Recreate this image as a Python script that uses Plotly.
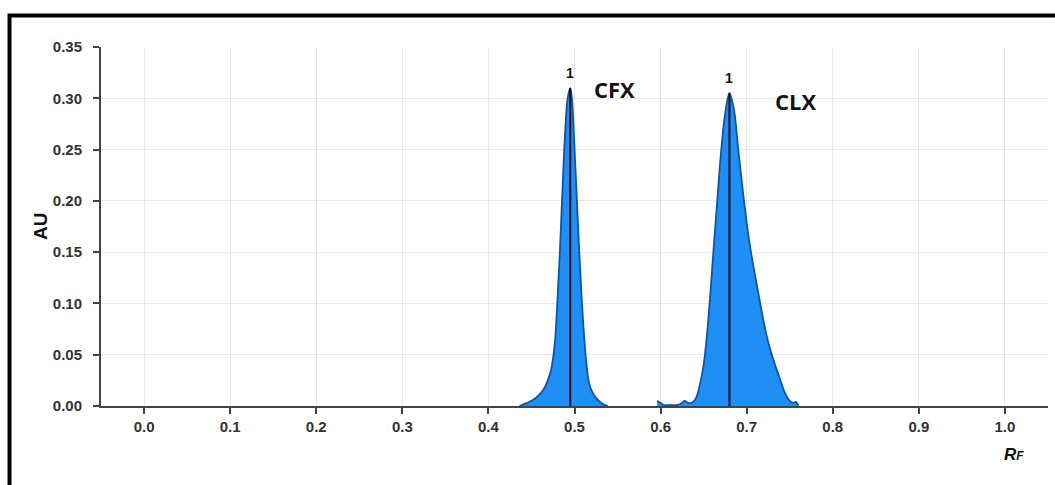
import plotly.graph_objects as go

# ---- data ----
cfx_rf = [0.436, 0.445, 0.452, 0.458, 0.464, 0.469, 0.473, 0.477, 0.480, 0.483, 0.486,
          0.489, 0.492, 0.495, 0.497, 0.499, 0.502, 0.505, 0.508, 0.511, 0.514, 0.517,
          0.521, 0.527, 0.533, 0.539]
cfx_au = [0.000, 0.003, 0.006, 0.010, 0.016, 0.025, 0.036, 0.060, 0.100, 0.150, 0.210,
          0.265, 0.300, 0.310, 0.300, 0.270, 0.215, 0.160, 0.110, 0.070, 0.040, 0.022,
          0.013, 0.006, 0.002, 0.000]

clx_rf = [0.596, 0.600, 0.604, 0.612, 0.620, 0.625, 0.628, 0.632, 0.636, 0.640, 0.643,
          0.646, 0.650, 0.654, 0.658, 0.662, 0.666, 0.670, 0.675, 0.680, 0.685, 0.690,
          0.696, 0.702, 0.707, 0.712, 0.717, 0.722, 0.727, 0.733, 0.738, 0.742, 0.746,
          0.750, 0.754, 0.757, 0.760]
clx_au = [0.005, 0.003, 0.001, 0.001, 0.001, 0.003, 0.005, 0.003, 0.003, 0.006, 0.012,
          0.022, 0.040, 0.070, 0.112, 0.158, 0.202, 0.245, 0.285, 0.305, 0.290, 0.252,
          0.206, 0.166, 0.140, 0.117, 0.094, 0.073, 0.056, 0.040, 0.028, 0.018, 0.010,
          0.005, 0.003, 0.004, 0.000]

peak_rf = [0.495, 0.680]
peak_au = [0.310, 0.305]
peak_num = ["1", "1"]
compound = ["CFX", "CLX"]
compound_rf = [0.546, 0.757]
compound_au = [0.309, 0.297]

x_ticks = [0.0, 0.1, 0.2, 0.3, 0.4, 0.5, 0.6, 0.7, 0.8, 0.9, 1.0]
y_ticks = [0.00, 0.05, 0.10, 0.15, 0.20, 0.25, 0.30, 0.35]

FILL = "#1f8ff5"
EDGE = "#0d56a3"

fig = go.Figure()
for xs, ys in [(cfx_rf, cfx_au), (clx_rf, clx_au)]:
    fig.add_trace(go.Scatter(
        x=xs, y=ys, mode="lines", fill="tozeroy",
        line=dict(color=EDGE, width=1.8, shape="spline", smoothing=1.0),
        fillcolor=FILL, showlegend=False, hoverinfo="skip"))

for px, py in zip(peak_rf, peak_au):
    fig.add_trace(go.Scatter(
        x=[px, px], y=[0, py], mode="lines",
        line=dict(color="#0a0a1a", width=2), showlegend=False, hoverinfo="skip"))

for px, py, t in zip(peak_rf, peak_au, peak_num):
    fig.add_annotation(x=px, y=py, text="<b>%s</b>" % t, showarrow=False,
                       yanchor="bottom", yshift=5,
                       font=dict(family="Liberation Sans", size=14, color="#111"))

for px, py, t in zip(compound_rf, compound_au, compound):
    fig.add_annotation(x=px, y=py, text="<b>%s</b>" % t, showarrow=False,
                       font=dict(family="Open Sans", size=22, color="#111"))

axis_common = dict(
    showline=True, linecolor="#444", linewidth=2,
    ticks="outside", ticklen=6, tickwidth=2, tickcolor="#444",
    showgrid=True, gridcolor="#e8e8e8", gridwidth=1,
    zeroline=False,
    tickfont=dict(family="Liberation Sans", size=15, color="#333"),
)

fig.update_xaxes(range=[-0.05, 1.05], tickvals=x_ticks,
                 ticktext=["<b>%.1f</b>" % v for v in x_ticks], **axis_common)
fig.update_yaxes(range=[0, 0.35], tickvals=y_ticks,
                 ticktext=["<b>%.2f</b>" % v for v in y_ticks],
                 ticklabelstandoff=8, **axis_common)

# axis titles
fig.add_annotation(xref="paper", yref="paper", x=-0.077, y=0.5, text="<b>AU</b>",
                   textangle=-90, showarrow=False,
                   font=dict(family="Liberation Sans", size=19, color="#111"))
fig.add_annotation(xref="paper", yref="paper", x=0.977, y=-0.166,
                   text="<b><i>R</i></b><b><i><span style='font-size:12px'>F</span></i></b>",
                   showarrow=False,
                   font=dict(family="Liberation Sans", size=17, color="#111"))

# outer frame
fig.add_shape(type="rect", xref="paper", yref="paper",
              x0=-0.0966, x1=1.03, y0=-0.3, y1=1.0877,
              line=dict(color="black", width=4), layer="above")

fig.update_layout(
    width=1055, height=485,
    margin=dict(l=101, r=7, t=47, b=79),
    paper_bgcolor="white", plot_bgcolor="white",
)

fig.write_html("out.html")
